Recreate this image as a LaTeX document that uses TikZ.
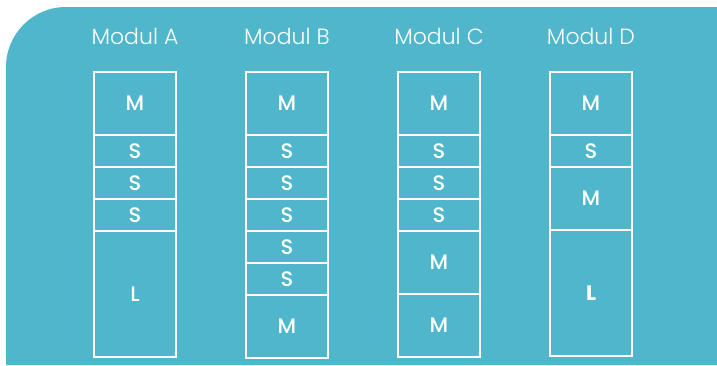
\documentclass[tikz,border=0pt]{standalone}
\usepackage{fontspec}
\setmainfont{Poppins}
\newfontfamily\thinfont{Poppins Light}
\newfontfamily\midfont{Poppins Medium}
\usetikzlibrary{positioning}
\definecolor{modteal}{RGB}{80,182,204}

\begin{document}
\begin{tikzpicture}[x=1pt, y=1pt,
    blk/.style={draw=white, line width=2.5pt, outer sep=0pt, inner sep=0pt,
      minimum width=82pt, text=white, font=\midfont\fontsize{21}{21}\selectfont},
    sblk/.style={blk, minimum height=32pt},
    mblk/.style={blk, minimum height=63pt},
    lblk/.style={blk, minimum height=126pt},
    modtitle/.style={text=white, font=\thinfont\fontsize{22}{22}\selectfont}]
                \useasboundingbox (0,0) rectangle (717,-365);

                % Draw the teal panel with its rounded corner
                \fill[modteal] (6,-365) -- (6,-67) arc[start angle=180, end angle=90, radius=60]
                    -- (717,-7) -- (717,-365) -- cycle;

                % Titles
                \node[modtitle] (ta) at (135,-36) {Modul A};
                \node[modtitle] (tb) at (287,-36) {Modul B};
                \node[modtitle] (tc) at (439,-36) {Modul C};
                \node[modtitle] (td) at (591,-36) {Modul D};

                % Modul A
                \node[mblk, anchor=north] (a1) at (135,-72) {M};
                \node[sblk, below=0pt of a1] (a2) {S};
                \node[sblk, below=0pt of a2] (a3) {S};
                \node[sblk, below=0pt of a3] (a4) {S};
                \node[lblk, below=0pt of a4] (a5) {L};

                % Modul B
                \node[mblk, anchor=north] (b1) at (287,-72) {M};
                \node[sblk, below=0pt of b1] (b2) {S};
                \node[sblk, below=0pt of b2] (b3) {S};
                \node[sblk, below=0pt of b3] (b4) {S};
                \node[sblk, below=0pt of b4] (b5) {S};
                \node[sblk, below=0pt of b5] (b6) {S};
                \node[mblk, below=0pt of b6] (b7) {M};

                % Modul C
                \node[mblk, anchor=north] (c1) at (439,-72) {M};
                \node[sblk, below=0pt of c1] (c2) {S};
                \node[sblk, below=0pt of c2] (c3) {S};
                \node[sblk, below=0pt of c3] (c4) {S};
                \node[mblk, below=0pt of c4] (c5) {M};
                \node[mblk, below=0pt of c5] (c6) {M};

                % Modul D
                \node[mblk, anchor=north] (d1) at (591,-72) {M};
                \node[sblk, below=0pt of d1] (d2) {S};
                \node[mblk, below=0pt of d2] (d3) {M};
                \node[lblk, below=0pt of d3, font=\bfseries\fontsize{21}{21}\selectfont] (d4) {L};
\end{tikzpicture}
\end{document}
